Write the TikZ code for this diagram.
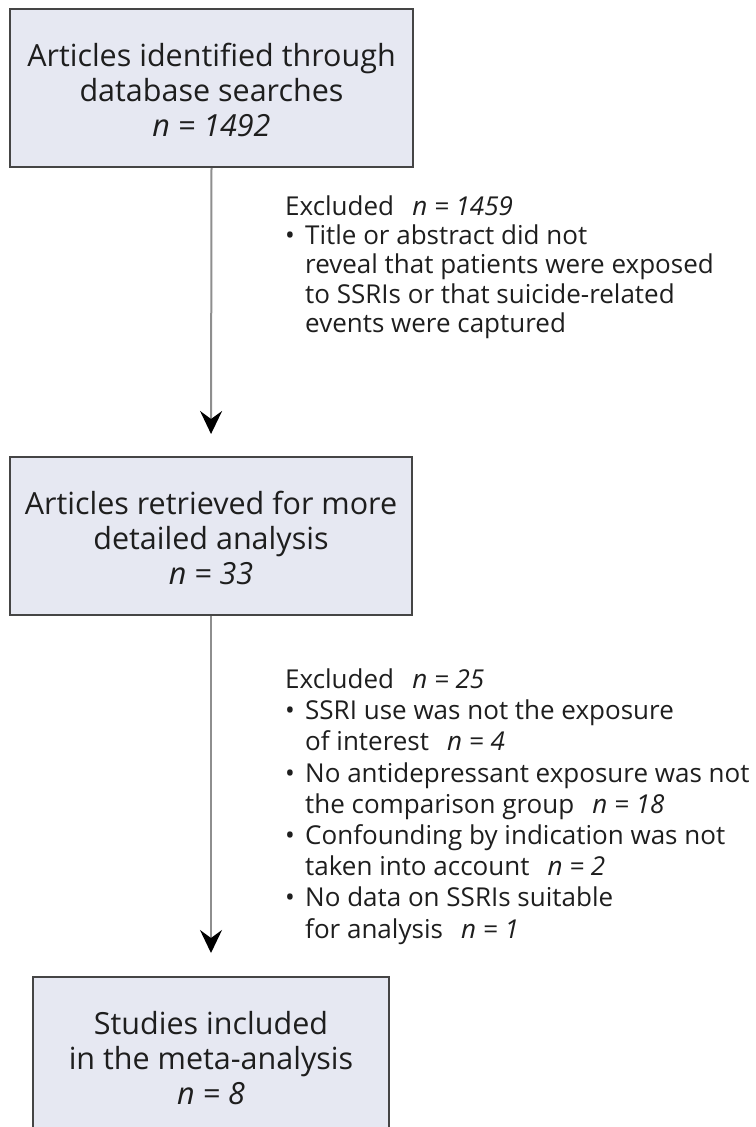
\documentclass[tikz,border=0pt]{standalone}
\usepackage{fontspec}
\setmainfont{Open Sans}
\usetikzlibrary{arrows.meta}
\definecolor{boxfill}{HTML}{E6E8F2}
\definecolor{boxline}{HTML}{454545}
\definecolor{arrline}{HTML}{8E8E8E}
\definecolor{txt}{HTML}{1E1E1E}
\newcommand{\bul}{\makebox[20pt][l]{•}}
\newcommand{\ind}{\hspace*{20pt}}
\newcommand{\gap}{\hspace{0.7em}}
\newcommand{\lift}{\rule{0pt}{27pt}}
\begin{document}
\begin{tikzpicture}[x=1pt,y=-1pt,
  flowbox/.style={draw=boxline,line width=2pt,fill=boxfill,align=center,
    text=txt,font=\fontsize{30.5}{35}\selectfont,inner sep=0pt},
  sidetext/.style={align=left,anchor=north west,inner sep=0pt,text=txt},
  flowarrow/.style={draw=arrline,line width=2pt,
    -{Stealth[length=23pt,width=22pt,inset=8pt,color=black]}},
]
\useasboundingbox (0,0) rectangle (755,1127);
\clip (0,0) rectangle (755,1127);
\node[flowbox,minimum width=403pt,minimum height=158pt] (box1) at (211.5,88)
  {\lift Articles identified through\\database searches\\\textit{n = 1492}};
\node[flowbox,minimum width=402pt,minimum height=158pt] (box2) at (211,536)
  {\lift Articles retrieved for more\\detailed analysis\\\textit{n = 33}};
\node[flowbox,minimum width=356pt,minimum height=158pt] (box3) at (211,1056)
  {\lift Studies included\\in the meta-analysis\\\textit{n = 8}};
\node[sidetext,font=\fontsize{26}{29.2}\selectfont] (ex1) at (285,195.5)
  {Excluded\gap\textit{n = 1459}\\
   \bul Title or abstract did not\\
   \ind reveal that patients were exposed\\
   \ind to SSRIs or that suicide-related\\
   \ind events were captured};
\node[sidetext,font=\fontsize{26}{31.2}\selectfont] (ex2) at (285,668.5)
  {Excluded\gap\textit{n = 25}\\
   \bul SSRI use was not the exposure\\
   \ind of interest\gap\textit{n = 4}\\
   \bul No antidepressant exposure was not\\
   \ind the comparison group\gap\textit{n = 18}\\
   \bul Confounding by indication was not\\
   \ind taken into account\gap\textit{n = 2}\\
   \bul No data on SSRIs suitable\\
   \ind for analysis\gap\textit{n = 1}};
\draw[flowarrow,shorten >=22pt] (box1.south) -- (box2.north);
\draw[flowarrow,shorten >=23pt] (box2.south) -- (box3.north);
\end{tikzpicture}
\end{document}
